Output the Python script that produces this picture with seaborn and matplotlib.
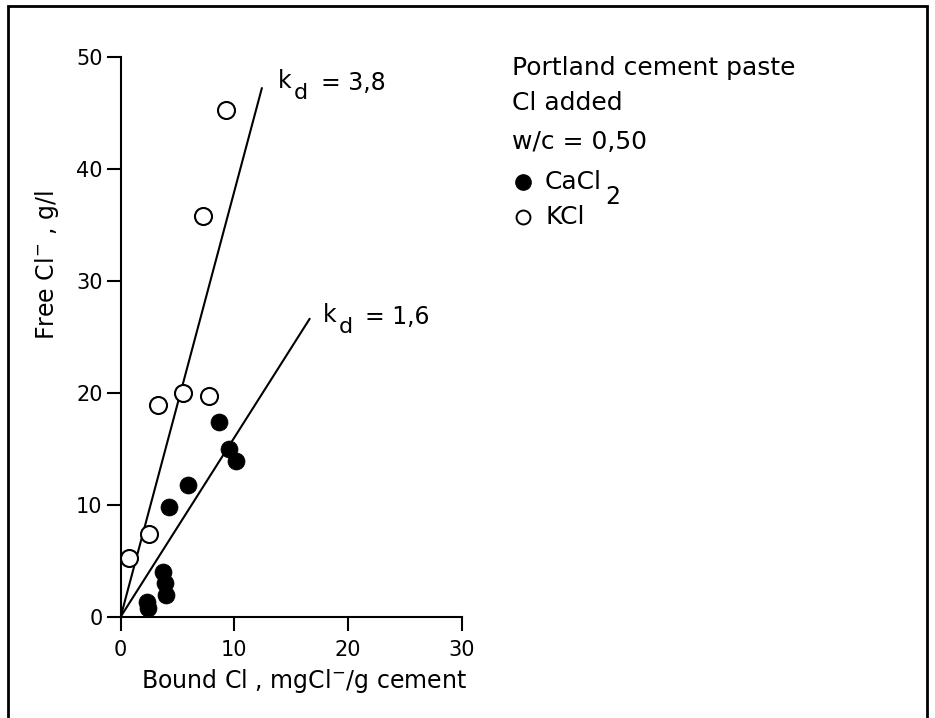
import matplotlib
matplotlib.use("Agg")
import matplotlib.pyplot as plt
from matplotlib.lines import Line2D
from matplotlib.patches import Rectangle
import numpy as np
import pandas as pd
import seaborn as sns

# Bound chloride (mg Cl-/g cement) and free chloride (g/l) per admixture
kcl_bound = [0.7, 2.5, 3.3, 5.5, 7.8, 7.2, 9.3]
kcl_free = [5.2, 7.4, 18.9, 20.0, 19.7, 35.8, 45.2]

cacl2_bound = [2.3, 2.4, 3.7, 3.9, 3.95, 4.25, 5.95, 8.65, 9.55, 10.1]
cacl2_free = [1.35, 0.75, 4.0, 3.0, 1.95, 9.8, 11.8, 17.4, 15.0, 13.9]

# Distribution coefficients of the two fitted lines and the free Cl level where each line stops
kd_values = [3.8, 1.6]
kd_line_top = [47.2, 26.6]

x_ticks = [0, 10, 20, 30]
y_ticks = [0, 10, 20, 30, 40, 50]

info_lines = ["Portland cement paste", "Cl added", "w/c = 0,50"]
series_names = ["CaCl", "KCl"]

sns.set_style("ticks")
plt.rcParams["font.family"] = ["DejaVu Sans"]
plt.rcParams["mathtext.default"] = "regular"
plt.rcParams["text.color"] = "black"
plt.rcParams["axes.labelcolor"] = "black"

W, H = 935, 718
fig = plt.figure(figsize=(W / 100, H / 100), dpi=100)
ax = fig.add_axes([120.7 / W, 1 - 616.7 / H, 341.0 / W, 560.0 / H])

df = pd.concat([
    pd.DataFrame({"bound": kcl_bound, "free": kcl_free, "salt": "KCl"}),
    pd.DataFrame({"bound": cacl2_bound, "free": cacl2_free, "salt": "CaCl2"}),
])

# fitted lines through the origin
for kd, top in zip(kd_values, kd_line_top):
    xs = np.array([0.0, top / kd])
    sns.lineplot(x=xs, y=kd * xs, ax=ax, color="black", lw=1.5, legend=False)

sns.scatterplot(data=df[df.salt == "KCl"], x="bound", y="free", ax=ax,
                marker="o", s=150, facecolor="white", edgecolor="black",
                linewidth=1.5, legend=False, zorder=3, clip_on=False)
sns.scatterplot(data=df[df.salt == "CaCl2"], x="bound", y="free", ax=ax,
                marker="o", s=150, color="black", edgecolor="black",
                linewidth=0.5, legend=False, zorder=3, clip_on=False)

ax.set_xlim(0, 30)
ax.set_ylim(0, 50)
ax.set_xticks(x_ticks)
ax.set_yticks(y_ticks)
ax.tick_params(axis="both", direction="out", length=10, width=1.5,
               labelsize=15, color="black", labelcolor="black")
ax.tick_params(axis="x", pad=7)
ax.tick_params(axis="y", pad=3)
for side in ["top", "right"]:
    ax.spines[side].set_visible(False)
for side in ["left", "bottom"]:
    ax.spines[side].set_linewidth(1.5)
    ax.spines[side].set_color("black")

ax.set_xlabel(r"Bound Cl , mgCl$^{-}$/g cement", fontsize=17)
ax.xaxis.label.set_va("center")
ax.xaxis.set_label_coords(0.5375, -0.115)
ax.set_ylabel(r"Free Cl$^{-}$ , g/l", fontsize=17)
ax.yaxis.label.set_va("center")
ax.yaxis.set_label_coords(-0.216, 0.628)


def kd_label(x, y, dx, dy, kd):
    k = ax.annotate("k", xy=(x, y), xytext=(dx, dy), textcoords="offset pixels",
                    ha="left", va="center", fontsize=17, annotation_clip=False)
    d = ax.annotate("d", xy=(1, 0.5), xycoords=k, xytext=(2, -12),
                    textcoords="offset pixels", ha="left", va="center", fontsize=16)
    ax.annotate("= " + f"{kd:.1f}".replace(".", ","), xy=(1, 0.5), xycoords=d,
                xytext=(13, 10), textcoords="offset pixels", ha="left",
                va="center", fontsize=17)


label_offsets = [(16, 7), (13, 4)]
for kd, top, (dx, dy) in zip(kd_values, kd_line_top, label_offsets):
    kd_label(top / kd, top, dx, dy, kd)

# description block and marker key
for text, py in zip(info_lines, [68, 103, 142]):
    fig.text(512 / W, 1 - py / H, text, fontsize=18, ha="left", va="center")

fig.add_artist(Line2D([523 / W], [1 - 182 / H], transform=fig.transFigure,
                      marker="o", markersize=11, color="black", ls="none"))
fig.add_artist(Line2D([523 / W], [1 - 217 / H], transform=fig.transFigure,
                      marker="o", markersize=10, markerfacecolor="white",
                      markeredgecolor="black", markeredgewidth=1.4, ls="none"))
cacl = fig.text(545 / W, 1 - 182 / H, series_names[0], fontsize=18,
                ha="left", va="center")
ax.annotate("2", xy=(1, 0.5), xycoords=cacl, xytext=(3, -15),
            textcoords="offset pixels", ha="left", va="center", fontsize=17)
fig.text(545 / W, 1 - 217 / H, series_names[1], fontsize=18,
         ha="left", va="center")

# frame around the figure
fig.add_artist(Rectangle((8 / W, -0.05), (927 - 8) / W, 1 - 6 / H + 0.05,
                         transform=fig.transFigure, fill=False,
                         edgecolor="black", lw=2, clip_on=False))

fig.savefig("out.png", dpi=100)
